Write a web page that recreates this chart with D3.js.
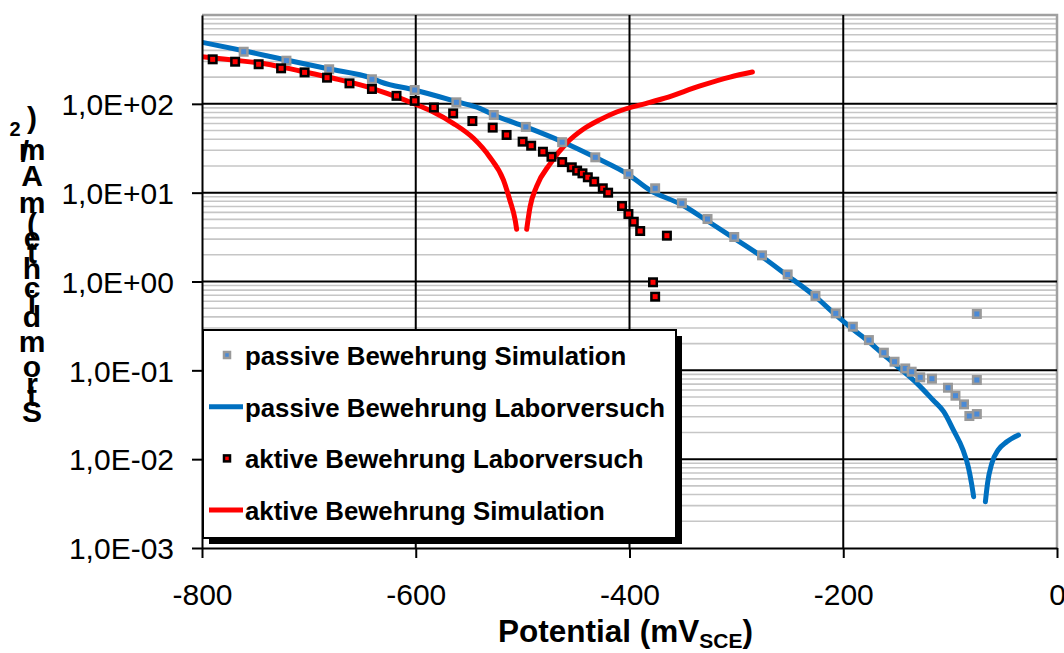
<!DOCTYPE html>
<html>
<head>
<meta charset="utf-8">
<script src="https://cdn.jsdelivr.net/npm/d3@7"></script>
<style>
  body { margin: 0; background: #fff; }
  svg { display: block; font-family: Arial, "Liberation Sans", sans-serif; }
</style>
</head>
<body>
<svg id="svg" width="1064" height="653"></svg>
<script>
// ---- data (Potential in mV_SCE, Stromdichte in mA/m²) ----
const potentialTicks = [-800, -600, -400, -200, 0];
const densityTicks = [1e-3, 1e-2, 1e-1, 1, 10, 100];

const seriesNames = [
    "passive Bewehrung Simulation",
    "passive Bewehrung Laborversuch",
    "aktive Bewehrung Laborversuch",
    "aktive Bewehrung Simulation"
];

// passive Bewehrung Simulation (Punkte)
const passiveSimU = [-761, -721, -681, -641, -601, -562, -527, -497, -463, -432, -401, -376, -351, -327, -302,
    -276, -252, -226, -207, -191, -176, -162, -152, -142, -136, -128, -117, -102, -95, -87, -82, -75, -75, -75];
const passiveSimI = [386, 306, 245, 189, 143, 104, 75, 55, 37, 25, 16.2, 11.2, 7.6, 5.05, 3.17,
    1.97, 1.2, 0.687, 0.438, 0.31, 0.219, 0.158, 0.125, 0.105, 0.0965, 0.0834, 0.0805, 0.0637, 0.0518, 0.0414, 0.0306, 0.0322, 0.0778, 0.431];

// passive Bewehrung Laborversuch (Linie), null = Unterbrechung
const passiveLabU = [-800, -761, -721, -681, -641, -633, -601, -562, -540, -527, -497, -463, -432, -401, -381, -351,
    -327, -302, -276, -252, -226, -207, -191, -176, -162, -147, -131, -116, -106, -97, -88, -83, -80, -78,
    -72, -67, -65, -61, -55, -47, -36];
const passiveLabI = [493, 396, 311, 247, 194, 177, 143, 106, 89, 75, 55, 37.5, 25, 16, 10.7, 7.3,
    4.8, 3.06, 1.9, 1.16, 0.675, 0.42, 0.29, 0.21, 0.149, 0.105, 0.0714, 0.0463, 0.0342, 0.0213, 0.0127, 0.0082, 0.00535, 0.00378,
    null, 0.00332, 0.00535, 0.00897, 0.0127, 0.0157, 0.0187];

// aktive Bewehrung Laborversuch (Punkte)
const activeLabU = [-790, -769, -747, -726, -704, -683, -662, -641, -618, -601, -583, -565, -547, -528, -515, -500,
    -492, -481, -473, -463, -454, -449, -444, -439, -433, -425, -420, -407, -401, -396, -390, -365, -378, -376];
const activeLabI = [317, 298, 279, 251, 226, 197, 170, 147, 123, 108, 91, 78, 64, 54, 44.6, 37.5,
    33.8, 28.9, 25.4, 22.1, 19.3, 17.7, 16.5, 14.9, 13.3, 11.2, 10.0, 7.08, 5.75, 4.71, 3.70, 3.28, 0.98, 0.675];

// aktive Bewehrung Simulation (Linie), null = Unterbrechung
const activeSimU = [-800, -771, -740, -708, -677, -646, -627, -602, -584, -565, -546, -531, -518, -512, -507, -505.6,
    -501, -496.2, -493, -487, -474, -459, -443, -428, -412, -381, -367, -334, -306, -285];
const activeSimI = [340, 311, 281, 234, 194, 156, 131, 101, 81.5, 60.4, 40.9, 25.4, 13.9, 8.26, 4.92, 3.87,
    null, 3.87, 6.95, 11.7, 21.4, 36, 52, 66, 81, 104, 116, 159, 200, 228];

// ---- chart ----
const svg = d3.select("#svg");
const plotL = 202, plotR = 1057, plotT = 15, plotB = 548;

const x = d3.scaleLinear().domain([-800, 0]).range([plotL, plotR]);
const y = d3.scaleLog().domain([1e-3, 1e3]).range([plotB, plotT]);

const blue = "#0070c0";
const red = "#ff0000";

svg.append("rect").attr("width", 1064).attr("height", 653).attr("fill", "#fff");

svg.append("clipPath").attr("id", "plot")
    .append("rect")
    .attr("x", plotL).attr("y", plotT)
    .attr("width", plotR - plotL).attr("height", plotB - plotT);

// minor grid
const minor = y.ticks().filter(d => Math.abs(Math.log10(d) - Math.round(Math.log10(d))) > 1e-6);
svg.append("g").selectAll("line").data(minor).join("line")
    .attr("x1", plotL).attr("x2", plotR)
    .attr("y1", d => y(d)).attr("y2", d => y(d))
    .attr("stroke", "#c6c6c6").attr("stroke-width", 1.6);

// border top / right
svg.append("path")
    .attr("d", `M${plotL},${plotT}H${plotR}V${plotB}`)
    .attr("fill", "none").attr("stroke", "#a0a0a0").attr("stroke-width", 2.5);

// major grid
svg.append("g").selectAll("line").data(densityTicks.slice(1)).join("line")
    .attr("x1", plotL).attr("x2", plotR)
    .attr("y1", d => y(d)).attr("y2", d => y(d))
    .attr("stroke", "#000").attr("stroke-width", 2);
svg.append("g").selectAll("line").data(potentialTicks.slice(1, -1)).join("line")
    .attr("x1", d => x(d)).attr("x2", d => x(d))
    .attr("y1", plotT).attr("y2", plotB)
    .attr("stroke", "#000").attr("stroke-width", 2);

// lines
const line = d3.line()
    .defined(d => d[1] != null)
    .x(d => x(d[0]))
    .y(d => y(d[1]))
    .curve(d3.curveMonotoneX);

const plot = svg.append("g").attr("clip-path", "url(#plot)");

plot.append("path")
    .datum(d3.zip(passiveLabU, passiveLabI))
    .attr("d", line)
    .attr("fill", "none").attr("stroke", blue).attr("stroke-width", 5)
    .attr("stroke-linecap", "round").attr("stroke-linejoin", "round");

plot.append("path")
    .datum(d3.zip(activeSimU, activeSimI))
    .attr("d", line)
    .attr("fill", "none").attr("stroke", red).attr("stroke-width", 5)
    .attr("stroke-linecap", "round").attr("stroke-linejoin", "round");

// markers
const ms = 7.5;
svg.append("g").selectAll("rect").data(d3.zip(passiveSimU, passiveSimI)).join("rect")
    .attr("x", d => x(d[0]) - ms / 2).attr("y", d => y(d[1]) - ms / 2)
    .attr("width", ms).attr("height", ms)
    .attr("fill", "#4a8ad6").attr("stroke", "#999").attr("stroke-width", 2.5);

svg.append("g").selectAll("rect").data(d3.zip(activeLabU, activeLabI)).join("rect")
    .attr("x", d => x(d[0]) - ms / 2).attr("y", d => y(d[1]) - ms / 2)
    .attr("width", ms).attr("height", ms)
    .attr("fill", red).attr("stroke", "#000").attr("stroke-width", 2.5);

// axes
const fmt = d => {
    const e = Math.round(Math.log10(d));
    return "1,0E" + (e < 0 ? "-" : "+") + String(Math.abs(e)).padStart(2, "0");
};

const yAxis = svg.append("g")
    .attr("transform", `translate(${plotL},0)`)
    .call(d3.axisLeft(y).tickValues(densityTicks).tickFormat(fmt).tickSize(10).tickSizeOuter(0).tickPadding(18));
yAxis.attr("font-family", null).attr("font-size", 30);
yAxis.select(".domain").attr("stroke-width", 2);
yAxis.selectAll(".tick line").attr("stroke-width", 2);
yAxis.selectAll(".tick text").attr("dy", "0.36em").attr("fill", "#000");

const xAxis = svg.append("g")
    .attr("transform", `translate(0,${plotB})`)
    .call(d3.axisBottom(x).tickValues(potentialTicks).tickFormat(d => String(d)).tickSize(10).tickSizeOuter(0));
xAxis.attr("font-family", null).attr("font-size", 30);
xAxis.select(".domain").attr("stroke-width", 2);
xAxis.selectAll(".tick line").attr("stroke-width", 2);
xAxis.selectAll(".tick text").attr("y", 57).attr("dy", null).attr("fill", "#000");

// x title
const xTitle = svg.append("text")
    .attr("x", (plotL + plotR) / 2 - 4).attr("y", 642)
    .attr("text-anchor", "middle")
    .attr("font-weight", "bold").attr("font-size", 31.5)
    .text("Potential (mV");
xTitle.append("tspan").attr("font-size", 21).attr("dy", 6).text("SCE");
xTitle.append("tspan").attr("dy", -6).text(")");

// y title: upright letters stacked from bottom to top
const yTitle = "Stromdichte (mA/m²)";
const titleG = svg.append("g").attr("font-weight", "bold").attr("font-size", 30);
const spacing = 1.11;
let pos = 423;
Array.from(yTitle).forEach(c => {
    const t = titleG.append("text").text(c);
    const w = c === "/" ? 0 : t.node().getComputedTextLength() * spacing;
    const mid = c === "/" ? pos - 12 : pos - w / 2;
    pos -= w;
    if (c === " ") { t.remove(); return; }
    const sup = c === "²";
    t.attr("x", sup ? 15 : (c === "/" ? 25 : 32))
        .attr("y", mid)
        .attr("text-anchor", "middle")
        .attr("dominant-baseline", "central")
        .attr("font-size", sup ? 20 : null)
        .text(sup ? "2" : c);
});

// legend
const legend = svg.append("g").attr("transform", "translate(203,330)");
legend.append("rect").attr("x", 6).attr("y", 6).attr("width", 473).attr("height", 208).attr("fill", "#000");
legend.append("rect").attr("width", 473).attr("height", 208)
    .attr("fill", "#fff").attr("stroke", "#000").attr("stroke-width", 2);

const rows = legend.selectAll("g").data(seriesNames).join("g")
    .attr("transform", (d, i) => `translate(0,${35 + i * 51.7})`);

rows.append("text")
    .attr("x", 42).attr("y", 0)
    .attr("font-weight", "bold").attr("font-size", 25.8)
    .text(d => d);

rows.filter((d, i) => i === 1 || i === 3).append("line")
    .attr("x1", 6).attr("x2", 40).attr("y1", -10).attr("y2", -10)
    .attr("stroke", (d, i) => i === 0 ? blue : red).attr("stroke-width", 5);

const lms = 6;
rows.filter((d, i) => i === 0 || i === 2).append("rect")
    .attr("x", 24 - lms / 2).attr("y", -10 - lms / 2)
    .attr("width", lms).attr("height", lms)
    .attr("fill", (d, i) => i === 0 ? "#4a8ad6" : red)
    .attr("stroke", (d, i) => i === 0 ? "#999" : "#000").attr("stroke-width", 2.5);
</script>
</body>
</html>
